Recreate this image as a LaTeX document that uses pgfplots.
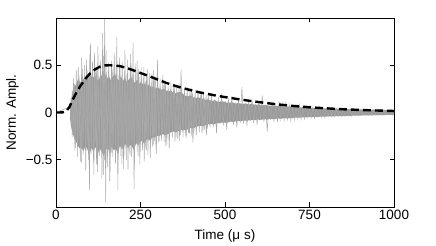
\documentclass[border=0pt]{standalone}
\usepackage{fontspec}
\setmainfont{Liberation Sans}
\usepackage{pgfplots}
\usepgfplotslibrary{fillbetween}
\pgfplotsset{compat=1.18}
\definecolor{sig}{rgb}{0.6,0.6,0.6}
\definecolor{spk}{rgb}{0.66,0.66,0.66}
\begin{document}
\begin{tikzpicture}
\begin{axis}[
  at={(0,0)}, anchor=south west,
  scale only axis, width=338pt, height=189pt,
  xmin=0, xmax=1000, ymin=-1, ymax=1,
  xtick={0,250,500,750,1000}, xticklabels={0,250,500,750,1000},
  ytick={-0.5,0,0.5}, yticklabels={−0.5,0,0.5},
  tick align=inside, major tick length=4.5pt,
  tick style={black, line width=0.6pt},
  axis line style={line width=0.7pt},
  tick label style={font=\fontsize{13.5}{16}\selectfont},
  label style={font=\fontsize{13.5}{16}\selectfont},
  xlabel={Time (μ s)}, ylabel={Norm. Ampl.},
  xlabel style={at={(axis description cs:0.5,0)}, anchor=center, yshift=-29pt},
  ylabel style={at={(axis description cs:0,0.5)}, anchor=center, yshift=43.5pt},
  clip=true,
]
\addplot[draw=none, name path=U] coordinates {
(42,0.07)(48,0.2)(54,0.27)(60,0.3)(66,0.36)(72,0.31)(78,0.38)(84,0.33)(90,0.40)(96,0.34)(102,0.42)
(108,0.35)(114,0.40)(120,0.36)(126,0.33)(132,0.41)(138,0.37)(144,0.43)(150,0.35)(156,0.39)(162,0.34)
(168,0.38)(174,0.41)(180,0.36)(186,0.34)(192,0.38)(198,0.33)(204,0.37)(210,0.32)(216,0.35)(222,0.38)
(228,0.34)(234,0.31)(240,0.35)(246,0.30)(252,0.33)(258,0.29)(264,0.31)(270,0.28)(276,0.30)(282,0.26)
(288,0.28)(294,0.25)(300,0.27)(310,0.24)(320,0.25)(330,0.22)(340,0.23)(350,0.20)(360,0.21)(370,0.22)
(380,0.18)(390,0.17)(400,0.18)(410,0.15)(420,0.16)(430,0.15)(440,0.13)(450,0.14)(460,0.12)(470,0.13)
(480,0.11)(490,0.12)(500,0.11)(510,0.10)(520,0.11)(530,0.095)(540,0.10)(550,0.09)(560,0.095)(570,0.085)
(580,0.09)(590,0.08)(600,0.085)(610,0.075)(620,0.08)(630,0.07)(640,0.075)(650,0.068)(660,0.07)(670,0.065)
(680,0.062)(690,0.064)(700,0.058)(720,0.055)(740,0.052)(760,0.048)(780,0.046)(800,0.043)(820,0.041)
(840,0.039)(860,0.036)(880,0.034)(900,0.032)(920,0.031)(940,0.029)(960,0.028)(980,0.026)(1000,0.025)
};
\addplot[draw=none, name path=L] coordinates {
(42,-0.07)(45,-0.15)(51,-0.24)(57,-0.3)(63,-0.33)(69,-0.38)(75,-0.36)(81,-0.41)(87,-0.35)(93,-0.39)
(99,-0.45)(105,-0.37)(111,-0.42)(117,-0.36)(123,-0.44)(129,-0.38)(135,-0.41)(141,-0.46)(147,-0.40)
(153,-0.37)(159,-0.43)(165,-0.36)(171,-0.40)(177,-0.38)(183,-0.44)(189,-0.35)(195,-0.39)(201,-0.36)
(207,-0.33)(213,-0.38)(219,-0.34)(225,-0.36)(231,-0.40)(237,-0.32)(243,-0.35)(249,-0.31)(255,-0.30)
(261,-0.33)(267,-0.29)(273,-0.28)(279,-0.30)(285,-0.26)(291,-0.27)(297,-0.25)(305,-0.25)(315,-0.23)
(325,-0.24)(335,-0.22)(345,-0.20)(355,-0.21)(365,-0.19)(375,-0.18)(385,-0.19)(395,-0.16)(405,-0.17)
(415,-0.15)(425,-0.14)(435,-0.145)(445,-0.13)(455,-0.12)(465,-0.125)(475,-0.115)(485,-0.11)(495,-0.105)
(505,-0.11)(515,-0.095)(525,-0.10)(535,-0.09)(545,-0.092)(555,-0.085)(565,-0.088)(575,-0.08)(585,-0.082)
(595,-0.075)(605,-0.078)(615,-0.072)(625,-0.075)(635,-0.068)(645,-0.07)(655,-0.064)(665,-0.066)(675,-0.06)
(685,-0.062)(695,-0.057)(710,-0.055)(730,-0.052)(750,-0.049)(770,-0.046)(790,-0.044)(810,-0.041)
(830,-0.039)(850,-0.037)(870,-0.035)(890,-0.033)(910,-0.031)(930,-0.03)(950,-0.028)(970,-0.027)(990,-0.025)(1000,-0.025)
};
\addplot[sig] fill between[of=U and L];
\addplot[spk, line width=0.45pt] coordinates {
(44,0.15)(48,-0.26)(52,0.36)(56,-0.40)(60,0.45)(64,-0.47)(68,0.40)(72,-0.52)(76,0.58)(80,-0.44)
(84,0.50)(88,-0.62)(92,0.45)(96,-0.50)(100,0.62)(104,-0.44)(108,0.55)(112,-0.66)(116,0.48)(120,-0.55)
(124,0.70)(128,-0.46)(132,0.52)(136,-0.70)(140,0.60)(144,-0.50)(148,0.66)(152,-0.58)(156,0.45)(160,-0.62)
(164,0.55)(168,-0.47)(172,0.63)(176,-0.55)(180,0.48)(184,-0.50)(188,0.58)(192,-0.46)(196,0.54)(200,-0.60)
(204,0.44)(208,-0.50)(212,0.56)(216,-0.42)(220,0.62)(224,-0.47)(228,0.40)(232,-0.55)(236,0.52)(240,-0.42)
(244,0.46)(248,-0.55)(252,0.42)(256,-0.40)(260,0.48)(264,-0.38)(268,0.40)(272,-0.45)(276,0.36)(280,-0.38)
(284,0.42)(288,-0.34)(292,0.38)(296,-0.40)(300,0.33)(304,-0.32)(308,0.36)(312,-0.30)(316,0.40)(320,-0.31)
(324,0.30)(328,-0.34)(332,0.28)(336,-0.30)(340,0.33)(344,-0.27)(348,0.29)(352,-0.31)(356,0.26)(360,-0.28)
(364,0.30)(368,-0.24)(372,0.27)(376,-0.26)(380,0.23)(384,-0.25)(388,0.27)(392,-0.22)(396,0.24)(400,-0.25)
(404,0.21)(408,-0.23)(412,0.24)(416,-0.20)(420,0.22)(424,-0.21)(428,0.19)(432,-0.22)(436,0.20)(440,-0.18)
(444,0.19)(448,-0.17)(452,0.18)(456,-0.16)
};
\addplot[spk, line width=0.5pt] coordinates {
(0,0)(42,0.06)(45,-0.15)(48,0.24)(51,-0.22)(54,0.30)(57,-0.38)(60,0.27)(63,-0.31)(66,0.48)(69,-0.25)
(72,0.31)(75,-0.53)(78,0.46)(81,-0.30)(84,0.36)(87,-0.40)(90,0.56)(93,-0.33)(96,0.40)(99,-0.82)
(102,0.73)(105,-0.36)(108,0.43)(111,-0.50)(114,0.63)(117,-0.33)(120,0.46)(123,-0.63)(126,0.36)(129,-0.43)
(132,0.55)(135,-0.40)(138,0.84)(141,-0.66)(144,0.99)(147,-0.95)(150,0.40)(153,-0.46)(156,0.53)(159,-0.73)
(162,0.33)(165,-0.43)(168,0.46)(171,-0.36)(174,0.60)(177,-0.40)(180,0.80)(183,-0.82)(186,0.40)(189,-0.35)
(192,0.50)(195,-0.55)(198,0.36)(201,-0.45)(204,0.66)(207,-0.38)(210,0.40)(213,-0.60)(216,0.35)(219,-0.45)
(222,0.52)(225,-0.36)(228,0.74)(231,-0.81)(234,0.40)(237,-0.33)(240,0.55)(243,-0.46)(246,0.38)(249,-0.42)
(252,0.48)(255,-0.34)(258,0.36)(261,-0.52)(264,0.33)(267,-0.40)(270,0.46)(273,-0.30)(276,0.42)(279,-0.48)
(282,0.32)(285,-0.36)(288,0.45)(291,-0.30)(294,0.35)(297,-0.44)(300,0.56)
(305,-0.30)(310,0.26)(315,-0.22)(320,0.34)(325,-0.36)(330,0.24)(335,-0.38)(340,0.25)(345,-0.20)(350,0.30)
(355,-0.26)(360,0.22)(365,-0.30)(370,0.45)(375,-0.20)(380,0.24)(385,-0.27)(390,0.18)(395,-0.22)(400,0.26)
(405,-0.32)(410,0.17)(415,-0.24)(420,0.20)(425,-0.16)(430,0.22)(435,-0.19)(440,0.15)(445,-0.24)(450,0.18)
(455,-0.14)(460,0.20)(465,-0.16)(470,0.14)(475,-0.22)(480,0.16)(485,-0.12)(490,0.20)(495,-0.14)(500,0.12)
(505,-0.18)(510,0.15)(515,-0.11)(520,0.17)(525,-0.13)(530,0.11)(535,-0.16)(540,0.13)(545,-0.11)(550,0.27)
(555,-0.12)(560,0.10)(565,-0.14)(570,0.12)(575,-0.09)(580,0.14)(585,-0.11)(590,0.09)(595,-0.13)(600,0.11)
(605,-0.08)(610,0.18)(615,-0.10)(620,0.08)(625,-0.20)(630,0.10)(635,-0.08)(640,0.11)(645,-0.09)(650,0.07)
(655,-0.10)(660,0.12)(665,-0.07)(670,0.09)(675,-0.08)(680,0.10)(685,-0.07)(690,0.08)(695,-0.09)(700,0.06)
(705,-0.08)(710,0.07)(715,-0.06)(720,0.08)(725,-0.07)(730,0.055)(735,-0.065)(740,0.07)(745,-0.05)(750,0.06)
(755,-0.055)(760,0.045)(765,-0.06)(770,0.05)(775,-0.045)(780,0.055)(785,-0.05)(790,0.04)(795,-0.05)(800,0.045)
(805,-0.04)(810,0.05)(815,-0.042)(820,0.038)(825,-0.045)(830,0.04)(835,-0.035)(840,0.042)(845,-0.038)(850,0.035)
(855,-0.04)(860,0.037)(865,-0.032)(870,0.038)(875,-0.035)(880,0.03)(885,-0.036)(890,0.033)(895,-0.03)(900,0.032)
(905,-0.028)(910,0.033)(915,-0.03)(920,0.028)(925,-0.031)(930,0.027)(935,-0.029)(940,0.03)(945,-0.026)(950,0.028)
(955,-0.027)(960,0.025)(965,-0.028)(970,0.026)(975,-0.024)(980,0.027)(985,-0.025)(990,0.024)(995,-0.026)(1000,0.024)
};
\addplot[black, line width=2.4pt, dash pattern=on 8pt off 4pt] coordinates {
(0,0)(10,0)(20,0.002)(30,0.012)(40,0.06)(50,0.14)(60,0.21)(70,0.27)(80,0.32)(90,0.37)(100,0.41)
(115,0.455)(130,0.485)(145,0.498)(160,0.5)(175,0.497)(190,0.49)(210,0.47)(230,0.445)(250,0.418)
(275,0.385)(300,0.35)(325,0.315)(350,0.285)(375,0.258)(400,0.235)(425,0.213)(450,0.195)(475,0.178)
(500,0.163)(550,0.135)(600,0.11)(650,0.088)(700,0.07)(750,0.055)(800,0.044)(850,0.034)(900,0.027)
(950,0.021)(1000,0.016)
};
\end{axis}
\pgfresetboundingbox
\useasboundingbox (-56pt,-39pt) rectangle (380pt,207pt);
\end{tikzpicture}
\end{document}
